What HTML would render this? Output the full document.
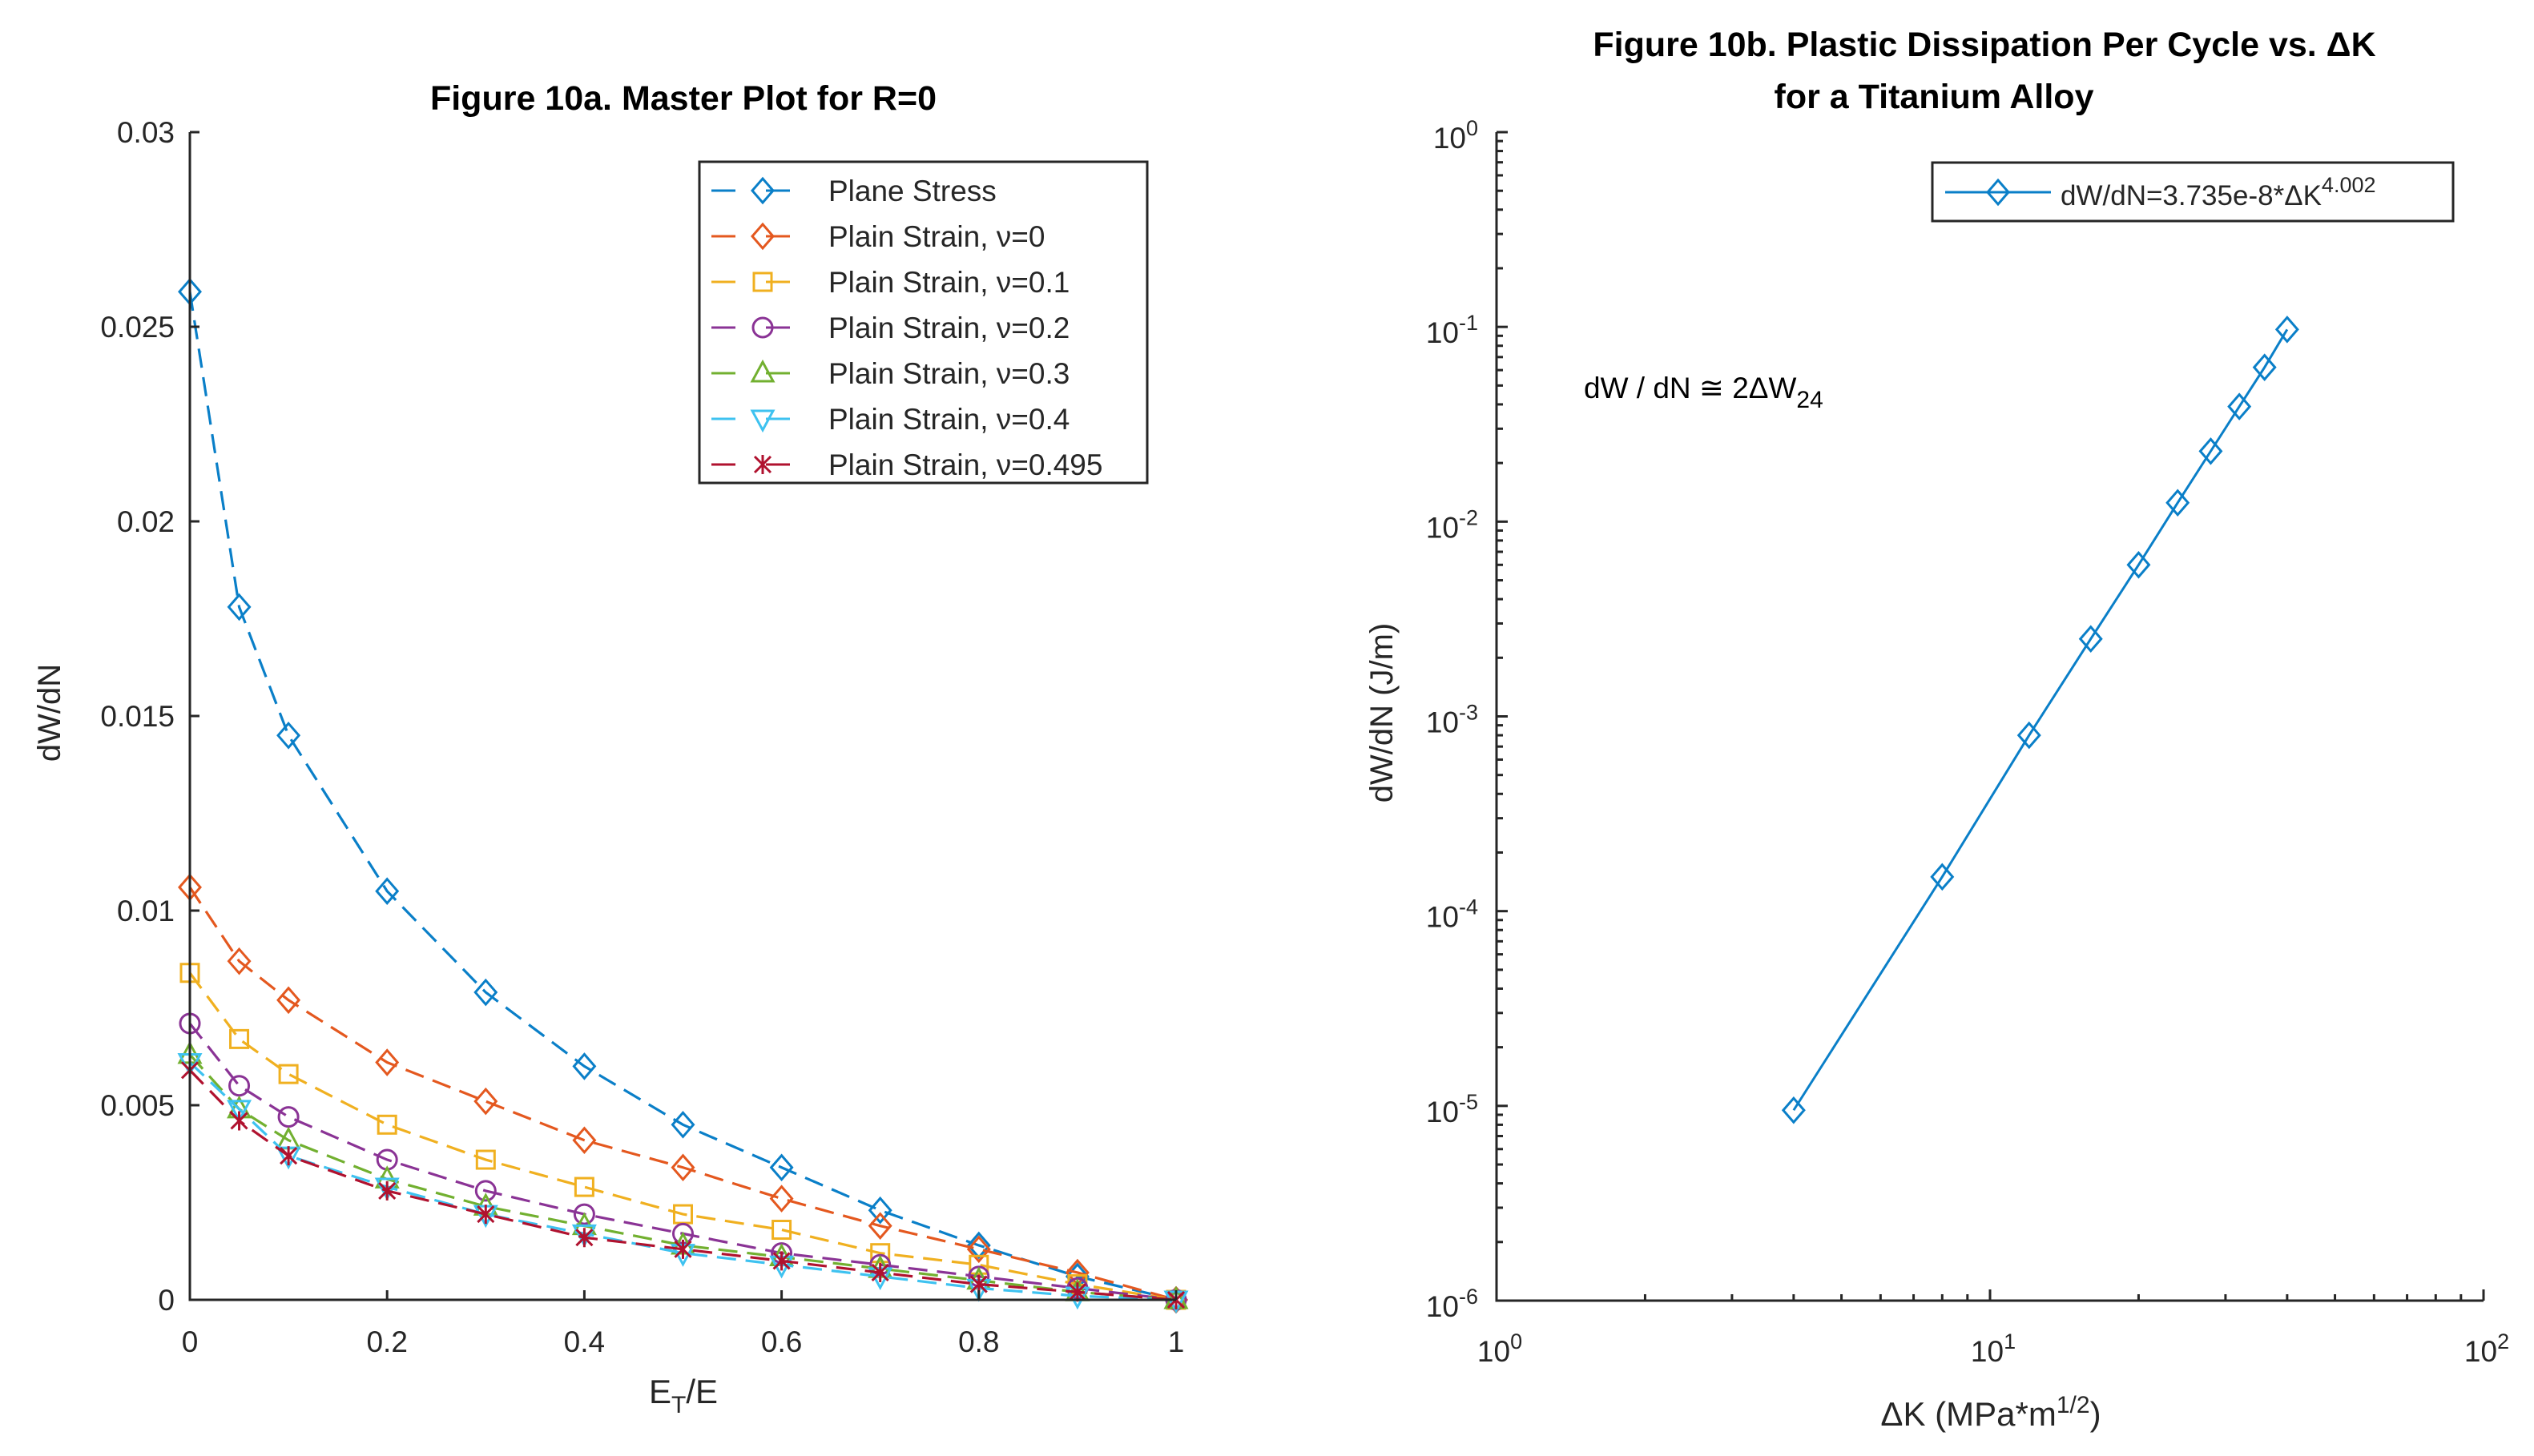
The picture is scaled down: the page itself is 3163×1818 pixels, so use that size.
<!DOCTYPE html>
<html><head><meta charset="utf-8">
<style>
html,body{margin:0;padding:0;background:#fff;}
svg{display:block;font-family:"Liberation Sans",sans-serif;}
</style></head>
<body>
<svg id="fig" width="3163" height="1818" viewBox="0 0 3163 1818" xmlns="http://www.w3.org/2000/svg"></svg>
<script>
// ---- Left chart data ----
const xValsA = [0, 0.05, 0.1, 0.2, 0.3, 0.4, 0.5, 0.6, 0.7, 0.8, 0.9, 1.0];
const planeStress = [0.0259, 0.0178, 0.0145, 0.0105, 0.0079, 0.0060, 0.0045, 0.0034, 0.0023, 0.0014, 0.0006, 0];
const strainNu0 = [0.0106, 0.0087, 0.0077, 0.0061, 0.0051, 0.0041, 0.0034, 0.0026, 0.0019, 0.0013, 0.0007, 0];
const strainNu01 = [0.0084, 0.0067, 0.0058, 0.0045, 0.0036, 0.0029, 0.0022, 0.0018, 0.0012, 0.0009, 0.0004, 0];
const strainNu02 = [0.0071, 0.0055, 0.0047, 0.0036, 0.0028, 0.0022, 0.0017, 0.0012, 0.0009, 0.0006, 0.0003, 0];
const strainNu03 = [0.0063, 0.0049, 0.0041, 0.0031, 0.0024, 0.0019, 0.0014, 0.0011, 0.0008, 0.0005, 0.0002, 0];
const strainNu04 = [0.0061, 0.0049, 0.0037, 0.0029, 0.0022, 0.0017, 0.0012, 0.0009, 0.0006, 0.0003, 0.0001, 0];
const strainNu0495 = [0.0059, 0.0046, 0.0037, 0.0028, 0.0022, 0.0016, 0.0013, 0.0010, 0.0007, 0.0004, 0.0002, 0];
const seriesNamesA = ["Plane Stress", "Plain Strain, \u03bd=0", "Plain Strain, \u03bd=0.1", "Plain Strain, \u03bd=0.2", "Plain Strain, \u03bd=0.3", "Plain Strain, \u03bd=0.4", "Plain Strain, \u03bd=0.495"];
const xTicksA = [0, 0.2, 0.4, 0.6, 0.8, 1];
const xTickLabelsA = ["0", "0.2", "0.4", "0.6", "0.8", "1"];
const yTicksA = [0, 0.005, 0.01, 0.015, 0.02, 0.025, 0.03];
const yTickLabelsA = ["0", "0.005", "0.01", "0.015", "0.02", "0.025", "0.03"];
// ---- Right chart data ----
const deltaK = [4, 8, 12, 16, 20, 24, 28, 32, 36, 40];
const dWdN = [9.5e-6, 1.5e-4, 8.0e-4, 2.5e-3, 6.0e-3, 1.25e-2, 2.3e-2, 3.9e-2, 6.2e-2, 9.7e-2];
const xDecadesB = [0, 1, 2];
const yDecadesB = [0, -1, -2, -3, -4, -5, -6];

const NS = "http://www.w3.org/2000/svg";
const svg = document.getElementById('fig');
function mk(tag, attrs, parent) {
  const e = document.createElementNS(NS, tag);
  for (const k in attrs) e.setAttribute(k, attrs[k]);
  (parent || svg).appendChild(e);
  return e;
}
const colors = ["#0a7fc8", "#e4581f", "#f0b020", "#8a3395", "#72b030", "#3ec2f0", "#b0122f"];
const markers = ["diamond", "diamond", "square", "circle", "up", "down", "star"];

function marker(type, cx, cy, col, g) {
  const s = 15;
  let e;
  if (type === "diamond") e = mk('polygon', {points: `${cx},${cy-s} ${cx+13},${cy} ${cx},${cy+s} ${cx-13},${cy}`}, g);
  else if (type === "square") e = mk('rect', {x: cx-11, y: cy-11, width: 22, height: 22}, g);
  else if (type === "circle") e = mk('circle', {cx: cx, cy: cy, r: 12}, g);
  else if (type === "up") e = mk('polygon', {points: `${cx},${cy-14} ${cx+13},${cy+10} ${cx-13},${cy+10}`}, g);
  else if (type === "down") e = mk('polygon', {points: `${cx},${cy+14} ${cx+13},${cy-10} ${cx-13},${cy-10}`}, g);
  else {
    e = mk('path', {d: `M${cx-10},${cy-10}L${cx+10},${cy+10}M${cx-10},${cy+10}L${cx+10},${cy-10}M${cx},${cy-12}L${cx},${cy+12}`}, g);
  }
  e.setAttribute('fill', 'none');
  e.setAttribute('stroke', col);
  e.setAttribute('stroke-width', '3');
  
  
  return e;
}

// ===== Left chart =====
const A = {l: 237, r: 1468, t: 165, b: 1623};
const sxA = v => A.l + (v - 0) / (1 - 0) * (A.r - A.l);
const syA = v => A.b - (v - 0) / (0.03 - 0) * (A.b - A.t);

const gA = mk('g', {});



const seriesA = [planeStress, strainNu0, strainNu01, strainNu02, strainNu03, strainNu04, strainNu0495];
seriesA.forEach((ys, i) => {
  const g = mk('g', {}, gA);
  
  
  const pts = xValsA.map((x, j) => `${sxA(x)},${syA(ys[j])}`).join(' ');
  const pl = mk('polyline', {points: pts, fill: 'none', stroke: colors[i], 'stroke-width': 3.2, 'stroke-dasharray': '24,12'}, g);
  
  
  xValsA.forEach((x, j) => marker(markers[i], sxA(x), syA(ys[j]), colors[i], g));
});

const axA = mk('path', {d: `M${A.l},${A.t}L${A.l},${A.b}L${A.r},${A.b}`, fill: 'none', stroke: '#262626', 'stroke-width': 3}, gA);


xTicksA.forEach((v, i) => {
  const x = sxA(v);
  mk('line', {x1: x, y1: A.b, x2: x, y2: A.b - 12, stroke: '#262626', 'stroke-width': 3}, gA);
  const t = mk('text', {x: x, y: 1688, 'font-size': 37, fill: '#262626', 'text-anchor': 'middle'}, gA);
  t.textContent = xTickLabelsA[i];
  
  
});
yTicksA.forEach((v, i) => {
  const y = syA(v);
  mk('line', {x1: A.l, y1: y, x2: A.l + 12, y2: y, stroke: '#262626', 'stroke-width': 3}, gA);
  const t = mk('text', {x: 218, y: y + 13, 'font-size': 37, fill: '#262626', 'text-anchor': 'end'}, gA);
  t.textContent = yTickLabelsA[i];
  
  
});
let tt = mk('text', {x: 853, y: 137, 'font-size': 43, 'font-weight': 'bold', fill: '#000', 'text-anchor': 'middle'}, gA);
tt.textContent = 'Figure 10a. Master Plot for R=0';


tt = mk('text', {x: 75, y: 890, 'font-size': 40, fill: '#262626', 'text-anchor': 'middle', transform: 'rotate(-90 75 890)'}, gA);
tt.textContent = 'dW/dN';


tt = mk('text', {x: 853, y: 1752, 'font-size': 42, fill: '#262626', 'text-anchor': 'middle'}, gA);
tt.innerHTML = 'E<tspan dy="12" font-size="30">T</tspan><tspan dy="-12">/E</tspan>';



const legA = mk('g', {}, gA);


mk('rect', {x: 873, y: 202, width: 559, height: 401, fill: '#fff', stroke: '#262626', 'stroke-width': 3}, legA);
seriesNamesA.forEach((n, i) => {
  const y = 238 + i * 57;
  const g = mk('g', {}, legA);
  
  
  mk('line', {x1: 888, y1: y, x2: 1016, y2: y, stroke: colors[i], 'stroke-width': 3, 'stroke-dasharray': '30,38'}, g);
  marker(markers[i], 952, y, colors[i], g);
  const t = mk('text', {x: 1034, y: y + 13, 'font-size': 37, fill: '#262626'}, g);
  t.textContent = n;
});

// ===== Right chart =====
const B = {l: 1868, r: 3100, t: 165, b: 1624};
const sxB = v => B.l + (Math.log10(v) - 0) / 2 * (B.r - B.l);
const syB = v => B.b - (Math.log10(v) + 6) / 6 * (B.b - B.t);
const gB = mk('g', {});



const axB = mk('path', {d: `M${B.l},${B.t}L${B.l},${B.b}L${B.r},${B.b}`, fill: 'none', stroke: '#262626', 'stroke-width': 3}, gB);


xDecadesB.forEach(d => {
  const x = sxB(Math.pow(10, d));
  mk('line', {x1: x, y1: B.b, x2: x, y2: B.b - 14, stroke: '#262626', 'stroke-width': 3}, gB);
  if (d < 2) for (let m = 2; m < 10; m++) {
    const xm = sxB(m * Math.pow(10, d));
    mk('line', {x1: xm, y1: B.b, x2: xm, y2: B.b - 8, stroke: '#262626', 'stroke-width': 3}, gB);
  }
  const t = mk('text', {x: x + 4, y: 1700, 'font-size': 37, fill: '#262626', 'text-anchor': 'middle'}, gB);
  t.innerHTML = '10<tspan dy="-16" font-size="27">' + d + '</tspan>';
  
  
});
yDecadesB.forEach(d => {
  const y = syB(Math.pow(10, d));
  mk('line', {x1: B.l, y1: y, x2: B.l + 14, y2: y, stroke: '#262626', 'stroke-width': 3}, gB);
  if (d > -6) for (let m = 2; m < 10; m++) {
    const ym = syB(m * Math.pow(10, d - 1));
    mk('line', {x1: B.l, y1: ym, x2: B.l + 8, y2: ym, stroke: '#262626', 'stroke-width': 3}, gB);
  }
  const t = mk('text', {x: 1845, y: y + 20, 'font-size': 37, fill: '#262626', 'text-anchor': 'end'}, gB);
  t.innerHTML = '10<tspan dy="-16" font-size="27">' + d + '</tspan>';
  
  
});
const gS = mk('g', {}, gB);


const plB = mk('polyline', {points: deltaK.map((k, i) => `${sxB(k)},${syB(dWdN[i])}`).join(' '), fill: 'none', stroke: '#0a7fc8', 'stroke-width': 3}, gS);


deltaK.forEach((k, i) => marker('diamond', sxB(k), syB(dWdN[i]), '#0a7fc8', gS));

tt = mk('text', {x: 2477, y: 70, 'font-size': 43, 'font-weight': 'bold', fill: '#000', 'text-anchor': 'middle'}, gB);
tt.textContent = 'Figure 10b. Plastic Dissipation Per Cycle vs. \u0394K';


tt = mk('text', {x: 2414, y: 135, 'font-size': 43, 'font-weight': 'bold', fill: '#000', 'text-anchor': 'middle'}, gB);
tt.textContent = 'for a Titanium Alloy';


tt = mk('text', {x: 1738, y: 890, 'font-size': 40, fill: '#262626', 'text-anchor': 'middle', transform: 'rotate(-90 1738 890)'}, gB);
tt.textContent = 'dW/dN (J/m)';


tt = mk('text', {x: 2485, y: 1780, 'font-size': 42, fill: '#262626', 'text-anchor': 'middle'}, gB);
tt.innerHTML = '\u0394K (MPa*m<tspan dy="-16" font-size="30">1/2</tspan><tspan dy="16">)</tspan>';


tt = mk('text', {x: 1977, y: 497, 'font-size': 37, fill: '#000'}, gB);
tt.innerHTML = 'dW / dN \u2245 2\u0394W<tspan dy="12" font-size="30">24</tspan>';



const legB = mk('g', {}, gB);


mk('rect', {x: 2412, y: 203, width: 650, height: 73, fill: '#fff', stroke: '#262626', 'stroke-width': 3}, legB);
mk('line', {x1: 2428, y1: 240, x2: 2560, y2: 240, stroke: '#0a7fc8', 'stroke-width': 3}, legB);
marker('diamond', 2494, 240, '#0a7fc8', legB);
tt = mk('text', {x: 2572, y: 256, 'font-size': 35, fill: '#262626'}, legB);
tt.innerHTML = 'dW/dN=3.735e-8*\u0394K<tspan dy="-16" font-size="27">4.002</tspan>';


</script>
</body></html>
